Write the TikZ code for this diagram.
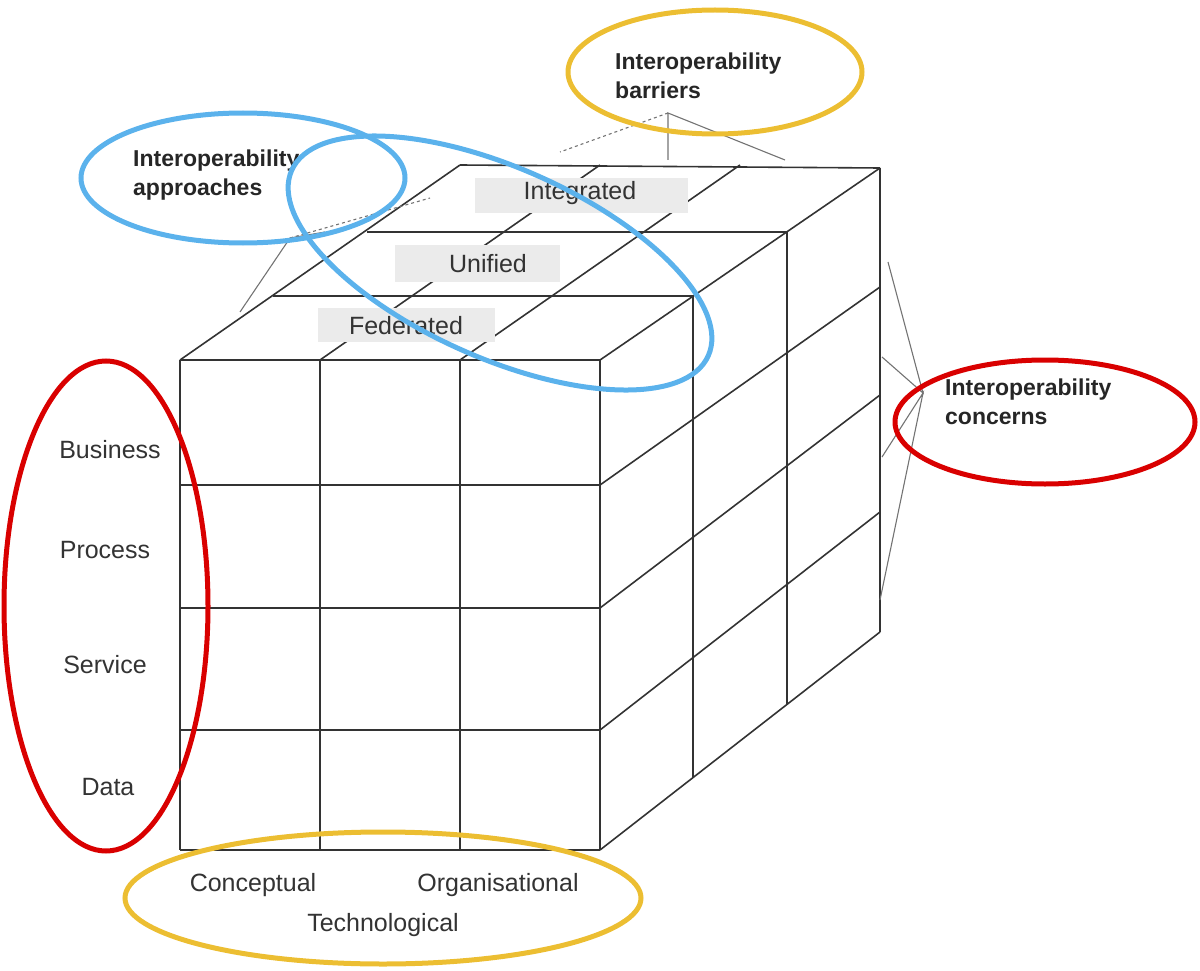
\documentclass[tikz,border=0pt]{standalone}
\usepackage{fontspec}
\setmainfont{Liberation Sans}
\definecolor{ired}{HTML}{D90000}
\definecolor{iblue}{HTML}{5BB2EC}
\definecolor{iyel}{HTML}{ECBE32}
\definecolor{txt}{HTML}{333333}
\begin{document}
\begin{tikzpicture}[x=1pt,y=-1pt,
  grid/.style={draw=black!80,line width=1.6pt},
  brk/.style={draw=black!55,line width=1.1pt},
  lbl/.style={text=txt,font=\fontsize{25}{27}\selectfont,inner sep=0pt},
  blbl/.style={text=black!85,font=\bfseries\fontsize{23}{29}\selectfont,align=left,inner sep=0pt,anchor=west},
  gbox/.style={fill=black!8,draw=none},
  ring/.style={line width=5pt}]
\useasboundingbox (0,0) rectangle (1200,971);
% front face
\foreach \x in {180,320,460,600} \draw[grid] (\x,360) -- (\x,850);
\foreach \y in {360,485,608,730,850} \draw[grid] (180,\y) -- (600,\y);
% right face
\draw[grid] (600,360)--(880,168) (600,485)--(880,287) (600,608)--(880,395) (600,730)--(880,512) (600,850)--(880,632);
\draw[grid] (693,296)--(693,777) (787,232)--(787,705) (880,168)--(880,632);
% top face
\draw[grid] (180,360)--(460,165) (320,360)--(600,165) (460,360)--(740,165);
\draw[grid] (273,296)--(693,296) (367,232)--(787,232) (460,165)--(880,168);
% gray label boxes
\fill[gbox] (475,178) rectangle (688,213);
\fill[gbox] (395,245) rectangle (560,282);
\fill[gbox] (318,308) rectangle (495,342);
\node[lbl] (integ) at (580,193) {Integrated};
\node[lbl] (unif) at (488,264) {Unified};
\node[lbl] (fed) at (406,326) {Federated};
% brackets
\coordinate (apA) at (290,238);
\draw[brk] (240,312) -- (apA) -- (325,232);
\draw[brk,dashed] (apA) -- (430,198);
\coordinate (apB) at (668,113);
\draw[brk] (668,160) -- (apB) -- (785,160);
\draw[brk,dashed] (apB) -- (560,152);
\coordinate (apC) at (923,393);
\draw[brk] (888,262) -- (apC) -- (882,357);
\draw[brk] (882,457) -- (apC) -- (880,600);
% side labels
\node[lbl] (bus) at (110,450) {Business};
\node[lbl] (pro) at (105,550) {Process};
\node[lbl] (ser) at (105,665) {Service};
\node[lbl] (dat) at (108,787) {Data};
\node[lbl] (con) at (253,885) {Conceptual};
\node[lbl] (org) at (498,885) {Organisational};
\node[lbl] (tec) at (383,925) {Technological};
\node[blbl] (bar) at (615,76) {Interoperability\\barriers};
\node[blbl] (app) at (133,175) {Interoperability\\approaches};
\node[blbl] (cnc) at (945,402) {Interoperability\\concerns};
% ellipses
\draw[ring,iyel] (715,72) ellipse [x radius=147,y radius=62];
\draw[ring,iblue] (243,178) ellipse [x radius=162,y radius=65];
\draw[ring,iblue,rotate around={-24:(500,263)}] (500,263) ellipse [x radius=228,y radius=95];
\draw[ring,ired] (1045,422) ellipse [x radius=150,y radius=62];
\draw[ring,ired] (106,606) ellipse [x radius=102,y radius=245];
\draw[ring,iyel] (383,898) ellipse [x radius=258,y radius=66];
\end{tikzpicture}
\end{document}
